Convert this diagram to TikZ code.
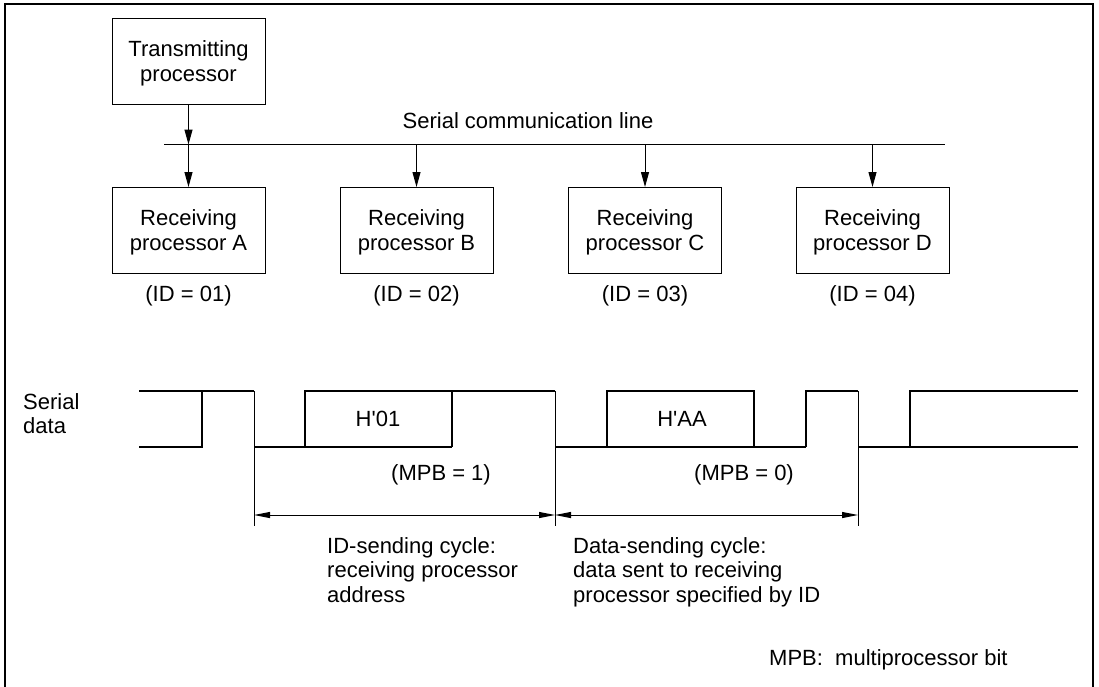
\documentclass[tikz,border=0pt]{standalone}
\usepackage{fontspec}
\setmainfont{Liberation Sans}
\usetikzlibrary{arrows.meta}
\begin{document}
\begin{tikzpicture}[x=1pt,y=-1pt,
  every node/.style={font=\fontsize{22}{25}\selectfont, inner sep=0pt},
  procbox/.style={draw, line width=1pt, minimum width=153pt, minimum height=86pt, align=center, text depth=-2pt},
  busarrow/.style={line width=1pt, -{Triangle[length=15pt,width=8pt]}},
  wave/.style={line width=1.2pt},
  extline/.style={line width=1pt},
  dimarrow/.style={line width=1pt, {Triangle[length=16pt,width=6pt]}-{Triangle[length=16pt,width=6pt]}},
  frame/.style={line width=2.5pt}]
\useasboundingbox (0,0) rectangle (1099,686);
\draw[frame] (5,690) -- (5,4) -- (1093,4) -- (1093,690);

% processors
\node[procbox] (tx) at (188.5,61) {Transmitting\\processor};
\node[procbox] (ra) at (188.5,230.5) {Receiving\\processor A};
\node[procbox] (rb) at (416.5,230.5) {Receiving\\processor B};
\node[procbox] (rc) at (645,230.5) {Receiving\\processor C};
\node[procbox] (rd) at (872.5,230.5) {Receiving\\processor D};

% bus
\coordinate (busL) at (164,144.5);
\coordinate (busR) at (945,144.5);
\draw[line width=1pt] (busL) -- (busR);
\node[anchor=base] (buslbl) at (528,128) {Serial communication line};
\coordinate (ja) at (ra.north |- busL);
\coordinate (jb) at (rb.north |- busL);
\coordinate (jc) at (rc.north |- busL);
\coordinate (jd) at (rd.north |- busL);
\draw[busarrow] (tx.south) -- (ja);
\draw[busarrow] (ja) -- (ra.north);
\draw[busarrow] (jb) -- (rb.north);
\draw[busarrow] (jc) -- (rc.north);
\draw[busarrow] (jd) -- (rd.north);

% IDs
\node[anchor=base] (ida) at (188.5,301) {(ID = 01)};
\node[anchor=base] (idb) at (416.5,301) {(ID = 02)};
\node[anchor=base] (idc) at (645,301) {(ID = 03)};
\node[anchor=base] (idd) at (872.5,301) {(ID = 04)};

% serial data label
\node[anchor=base west] (sd1) at (23,409) {Serial};
\node[anchor=base west] (sd2) at (23,433) {data};

% waveform (top T=391, bottom B=447)
\draw[wave] (139,391) -- (254,391);
\draw[wave] (139,447) -- (202,447) -- (202,391);
\draw[wave] (254,447) -- (452,447);
\draw[wave] (305,447) -- (305,391) -- (555,391);
\draw[wave] (452,391) -- (452,447);
\draw[wave] (555,447) -- (806,447);
\draw[wave] (607,447) -- (607,391) -- (754,391) -- (754,447);
\draw[wave] (806,447) -- (806,391) -- (858,391);
\draw[wave] (858,447) -- (1078,447);
\draw[wave] (910,447) -- (910,391) -- (1078,391);
\node (h01) at (378,419) {H\textquotesingle 01};
\node (haa) at (682,419) {H\textquotesingle AA};

% extension lines
\coordinate (e1) at (254,515);
\coordinate (e2) at (555,515);
\coordinate (e3) at (858,515);
\draw[extline] (254,391) -- (254,526);
\draw[extline] (555,391) -- (555,526);
\draw[extline] (858,391) -- (858,526);
\draw[dimarrow] (e1) -- (e2);
\draw[dimarrow] (e2) -- (e3);

\node[anchor=base] (mpb1) at (441,480) {(MPB = 1)};
\node[anchor=base] (mpb0) at (744,480) {(MPB = 0)};

\node[anchor=base west] (idc1) at (327,553) {ID-sending cycle:};
\node[anchor=base west] (idc2) at (327,577.5) {receiving processor};
\node[anchor=base west] (idc3) at (327,602) {address};
\node[anchor=base west] (dc1) at (573,553) {Data-sending cycle:};
\node[anchor=base west] (dc2) at (573,577.5) {data sent to receiving};
\node[anchor=base west] (dc3) at (573,602) {processor specified by ID};

\node[anchor=base west] (note) at (769,665) {MPB:\ \ multiprocessor bit};
\end{tikzpicture}
\end{document}
